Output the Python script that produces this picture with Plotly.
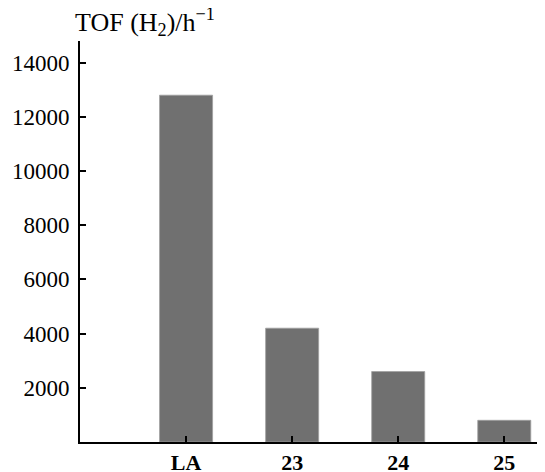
import plotly.graph_objects as go

categories = ["LA", "23", "24", "25"]
tof_values = [12800, 4200, 2600, 800]
y_tick_values = [2000, 4000, 6000, 8000, 10000, 12000, 14000]
y_tick_labels = ["2000", "4000", "6000", "8000", "10000", "12000", "14000"]

positions = list(range(len(categories)))

fig = go.Figure()
fig.add_trace(go.Bar(
    x=positions,
    y=tof_values,
    width=0.5,
    marker=dict(color="#707070", line=dict(color="#a0a0a0", width=0.8)),
))

font_family = "Liberation Serif, Times New Roman, serif"

# page has an 8px body margin, so the figure is sized to fit the window
fig.update_layout(
    width=537, height=464,
    margin=dict(l=72, r=0, t=33, b=30, pad=0),
    plot_bgcolor="white", paper_bgcolor="white",
    showlegend=False,
    font=dict(family=font_family, size=22, color="black"),
    xaxis=dict(
        range=[-1.0, 3.384],
        automargin=False,
        tickmode="array",
        tickvals=positions,
        ticktext=["<b>%s</b>" % c for c in categories],
        ticks="inside", ticklen=6, tickwidth=2, tickcolor="black",
        showline=True, linecolor="black", linewidth=2,
        showgrid=False, zeroline=False,
        tickfont=dict(family=font_family, size=22, color="black"),
    ),
    yaxis=dict(
        range=[0, 14800],
        automargin=False,
        tickmode="array",
        tickvals=y_tick_values,
        ticktext=y_tick_labels,
        ticks="inside", ticklen=6, tickwidth=2, tickcolor="black",
        showline=True, linecolor="black", linewidth=2,
        showgrid=False, zeroline=False,
        ticklabelstandoff=4,
        tickfont=dict(family=font_family, size=23, color="black"),
    ),
    annotations=[dict(
        text="TOF (H<sub>2</sub>)/h<sup>\u22121</sup>",
        xref="paper", yref="paper",
        x=(65 - 72.3) / 464.7, y=1 + (32.7 - 14) / 401.6,
        xanchor="left", yanchor="middle",
        showarrow=False,
        font=dict(family=font_family, size=26, color="black"),
    )],
)

fig.write_html("out.html")
